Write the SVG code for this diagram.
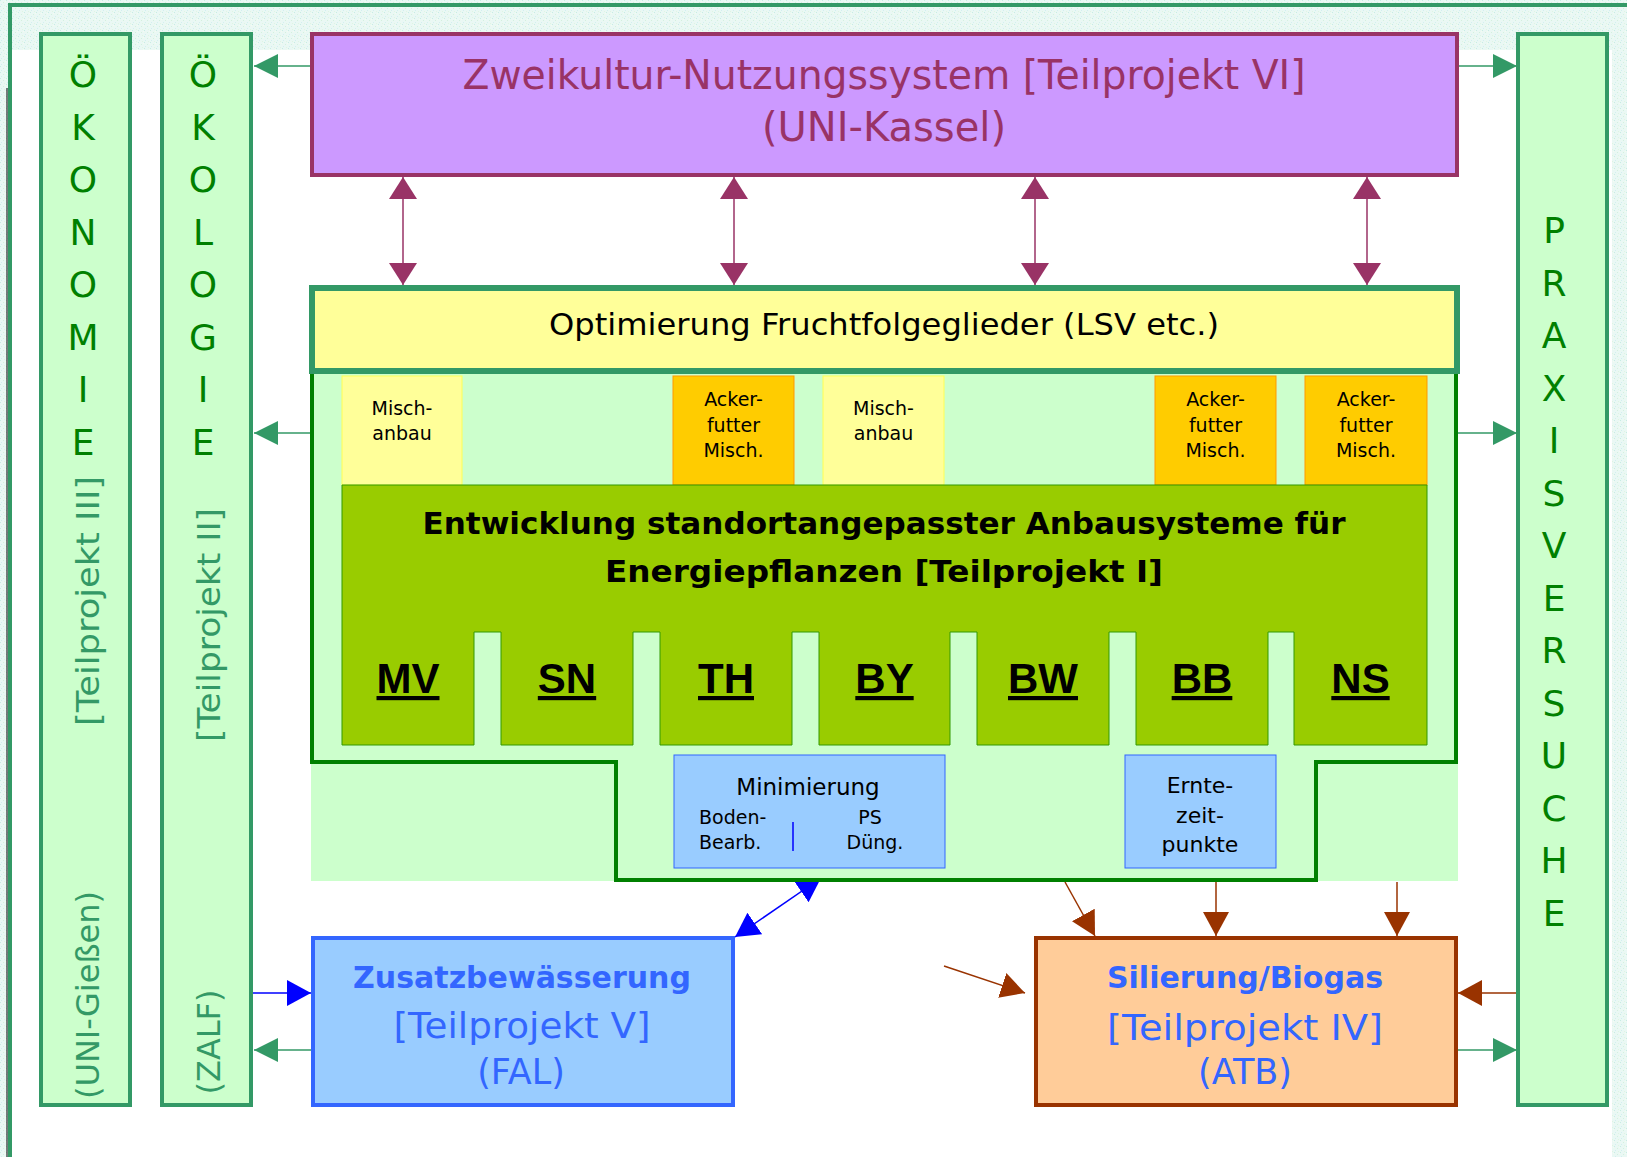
<svg xmlns="http://www.w3.org/2000/svg" width="1627" height="1157" viewBox="0 0 1627 1157">
<defs>
<pattern id="tex" width="6" height="6" patternUnits="userSpaceOnUse">
<rect width="6" height="6" fill="#eaf8f4"/>
<rect x="0" y="0" width="1" height="1" fill="#c8ece4"/>
<rect x="3" y="2" width="1" height="1" fill="#d4f0de"/>
<rect x="1" y="4" width="1" height="1" fill="#d2eff0"/>
<rect x="4" y="5" width="1" height="1" fill="#e0f5e2"/>
<rect x="5" y="1" width="1" height="1" fill="#f5fcf0"/>
</pattern>
<marker id="mg" viewBox="0 0 24 24" refX="24" refY="12" markerWidth="24" markerHeight="24" markerUnits="userSpaceOnUse" orient="auto-start-reverse"><path d="M0,0 L24,12 L0,24 Z" fill="#339966"/></marker>
<marker id="mp" viewBox="0 0 22 28" refX="22" refY="14" markerWidth="22" markerHeight="28" markerUnits="userSpaceOnUse" orient="auto-start-reverse"><path d="M0,0 L22,14 L0,28 Z" fill="#993366"/></marker>
<marker id="mb" viewBox="0 0 24 26" refX="24" refY="13" markerWidth="24" markerHeight="26" markerUnits="userSpaceOnUse" orient="auto-start-reverse"><path d="M0,0 L24,13 L0,26 Z" fill="#0000ff"/></marker>
<marker id="mr" viewBox="0 0 24 26" refX="24" refY="13" markerWidth="24" markerHeight="26" markerUnits="userSpaceOnUse" orient="auto-start-reverse"><path d="M0,0 L24,13 L0,26 Z" fill="#993300"/></marker>
</defs>
<style>
.f{font-family:"DejaVu Sans",sans-serif}
.col{fill:#ccffcc;stroke:#339966;stroke-width:4}
.let{font-family:"DejaVu Sans",sans-serif;font-size:36px;fill:#008000;text-anchor:middle}
.rot{font-family:"DejaVu Sans",sans-serif;font-size:32px;fill:#339966;text-anchor:middle}
.cg{stroke:#339966;stroke-width:1.5;fill:none}
.cp{stroke:#993366;stroke-width:1.5;fill:none}
.cb{stroke:#0000ff;stroke-width:1.5;fill:none}
.cr{stroke:#993300;stroke-width:1.5;fill:none}
.small{font-family:"DejaVu Sans",sans-serif;font-size:19px;fill:#000;text-anchor:middle}
.mid{font-family:"DejaVu Sans",sans-serif;font-size:22px;fill:#000;text-anchor:middle}
.st{font-family:"Liberation Sans",Arial,sans-serif;font-size:42px;font-weight:bold;fill:#000;text-anchor:middle;text-decoration:underline}
.blue{font-family:"DejaVu Sans",sans-serif;fill:#3366ff;text-anchor:middle}
</style>

<!-- background -->
<rect x="0" y="0" width="1627" height="1157" fill="url(#tex)"/>
<rect x="12" y="50" width="1600" height="1107" fill="#ffffff"/>
<line x1="7" y1="88" x2="7" y2="1157" stroke="#000" stroke-width="1"/>
<path d="M10,1157 V5 H1627" fill="none" stroke="#339966" stroke-width="4"/>

<!-- connectors (drawn first, nodes overlay tips) -->
<g id="connectors">
<line class="cg" x1="311" y1="66" x2="254" y2="66" marker-end="url(#mg)"/>
<line class="cg" x1="1458" y1="66" x2="1517" y2="66" marker-end="url(#mg)"/>
<line class="cg" x1="311" y1="433" x2="254" y2="433" marker-end="url(#mg)"/>
<line class="cg" x1="1458" y1="433" x2="1517" y2="433" marker-end="url(#mg)"/>
<line class="cp" x1="403" y1="177" x2="403" y2="285" marker-start="url(#mp)" marker-end="url(#mp)"/>
<line class="cp" x1="734" y1="177" x2="734" y2="285" marker-start="url(#mp)" marker-end="url(#mp)"/>
<line class="cp" x1="1035" y1="177" x2="1035" y2="285" marker-start="url(#mp)" marker-end="url(#mp)"/>
<line class="cp" x1="1367" y1="177" x2="1367" y2="285" marker-start="url(#mp)" marker-end="url(#mp)"/>
<line class="cb" x1="735" y1="937" x2="821" y2="878" marker-start="url(#mb)" marker-end="url(#mb)"/>
<line class="cb" x1="253" y1="993" x2="311" y2="993" marker-end="url(#mb)"/>
<line class="cg" x1="311" y1="1050" x2="254" y2="1050" marker-end="url(#mg)"/>
<line class="cr" x1="1065" y1="882" x2="1095" y2="936" marker-end="url(#mr)"/>
<line class="cr" x1="1216" y1="882" x2="1216" y2="936" marker-end="url(#mr)"/>
<line class="cr" x1="1397" y1="882" x2="1397" y2="936" marker-end="url(#mr)"/>
<line class="cr" x1="944" y1="966" x2="1025" y2="993" marker-end="url(#mr)"/>
<line class="cr" x1="1517" y1="993" x2="1458" y2="993" marker-end="url(#mr)"/>
<line class="cg" x1="1458" y1="1050" x2="1517" y2="1050" marker-end="url(#mg)"/>
</g>

<!-- Oekonomie column -->
<g id="oekonomie">
<rect class="col" x="41" y="34" width="89" height="1071"/>
<text class="let" x="83" y="87">Ö</text>
<text class="let" x="83" y="139.5">K</text>
<text class="let" x="83" y="192">O</text>
<text class="let" x="83" y="244.5">N</text>
<text class="let" x="83" y="297">O</text>
<text class="let" x="83" y="349.5">M</text>
<text class="let" x="83" y="402">I</text>
<text class="let" x="83" y="454.5">E</text>
<text class="rot" transform="translate(99,601) rotate(-90)" textLength="250" lengthAdjust="spacingAndGlyphs">[Teilprojekt III]</text>
<text class="rot" transform="translate(99,995) rotate(-90)">(UNI-Gießen)</text>
</g>

<!-- Oekologie column -->
<g id="oekologie">
<rect class="col" x="162" y="34" width="89" height="1071"/>
<text class="let" x="203" y="87">Ö</text>
<text class="let" x="203" y="139.5">K</text>
<text class="let" x="203" y="192">O</text>
<text class="let" x="203" y="244.5">L</text>
<text class="let" x="203" y="297">O</text>
<text class="let" x="203" y="349.5">G</text>
<text class="let" x="203" y="402">I</text>
<text class="let" x="203" y="454.5">E</text>
<text class="rot" transform="translate(220,625) rotate(-90)" textLength="234" lengthAdjust="spacingAndGlyphs">[Teilprojekt II]</text>
<text class="rot" transform="translate(220,1042) rotate(-90)">(ZALF)</text>
</g>

<!-- Praxisversuche column -->
<g id="praxisversuche">
<rect class="col" x="1518" y="34" width="89" height="1071"/>
<text class="let" x="1554" y="243">P</text>
<text class="let" x="1554" y="295.5">R</text>
<text class="let" x="1554" y="348">A</text>
<text class="let" x="1554" y="400.5">X</text>
<text class="let" x="1554" y="453">I</text>
<text class="let" x="1554" y="505.5">S</text>
<text class="let" x="1554" y="558">V</text>
<text class="let" x="1554" y="610.5">E</text>
<text class="let" x="1554" y="663">R</text>
<text class="let" x="1554" y="715.5">S</text>
<text class="let" x="1554" y="768">U</text>
<text class="let" x="1554" y="820.5">C</text>
<text class="let" x="1554" y="873">H</text>
<text class="let" x="1554" y="925.5">E</text>
</g>

<!-- TP VI -->
<g id="tp6">
<rect x="312" y="34" width="1145" height="141" fill="#cc99ff" stroke="#993366" stroke-width="4"/>
<text class="f" x="884" y="89" font-size="40" fill="#993366" text-anchor="middle" textLength="843" lengthAdjust="spacingAndGlyphs">Zweikultur-Nutzungssystem [Teilprojekt VI]</text>
<text class="f" x="884" y="141" font-size="40" fill="#993366" text-anchor="middle">(UNI-Kassel)</text>
</g>

<!-- container light green -->
<g id="container">
<rect x="311" y="288" width="1147" height="593" fill="#ccffcc"/>
<path d="M312,371 V762 H616 V880 H1316 V762 H1456 V371" fill="none" stroke="#008000" stroke-width="4"/>
</g>

<!-- Optimierung -->
<g id="optimierung">
<rect x="312" y="288" width="1145" height="83" fill="#ffff99" stroke="#339966" stroke-width="6"/>
<text class="f" x="884" y="335" font-size="31" fill="#000" text-anchor="middle" textLength="670" lengthAdjust="spacingAndGlyphs">Optimierung Fruchtfolgeglieder (LSV etc.)</text>
</g>

<!-- row cells -->
<g id="mischanbau1">
<rect x="342" y="376" width="120" height="109" fill="#ffff99" stroke="#ffff55" stroke-width="1"/>
<text class="small" x="402" y="415">Misch-</text>
<text class="small" x="402" y="440">anbau</text>
</g>
<g id="ackerfutter1">
<rect x="673" y="376" width="121" height="109" fill="#ffcc00" stroke="#ff9900" stroke-width="1"/>
<text class="small" x="733.5" y="406">Acker-</text>
<text class="small" x="733.5" y="432">futter</text>
<text class="small" x="733.5" y="457">Misch.</text>
</g>
<g id="mischanbau2">
<rect x="823" y="376" width="121" height="109" fill="#ffff99" stroke="#ffff55" stroke-width="1"/>
<text class="small" x="883.5" y="415">Misch-</text>
<text class="small" x="883.5" y="440">anbau</text>
</g>
<g id="ackerfutter2">
<rect x="1155" y="376" width="121" height="109" fill="#ffcc00" stroke="#ff9900" stroke-width="1"/>
<text class="small" x="1215.5" y="406">Acker-</text>
<text class="small" x="1215.5" y="432">futter</text>
<text class="small" x="1215.5" y="457">Misch.</text>
</g>
<g id="ackerfutter3">
<rect x="1305" y="376" width="122" height="109" fill="#ffcc00" stroke="#ff9900" stroke-width="1"/>
<text class="small" x="1366" y="406">Acker-</text>
<text class="small" x="1366" y="432">futter</text>
<text class="small" x="1366" y="457">Misch.</text>
</g>

<!-- TP I -->
<g id="tp1">
<path d="M342,485 H1427 V745 H1294 V632 H1268 V745 H1136 V632 H1109 V745 H977 V632 H950 V745 H819 V632 H792 V745 H660 V632 H633 V745 H501 V632 H474 V745 H342 Z" fill="#99cc00" stroke="#339900" stroke-width="1"/>
<text class="f" x="884" y="534" font-size="31" font-weight="bold" fill="#000" text-anchor="middle" textLength="923" lengthAdjust="spacingAndGlyphs">Entwicklung standortangepasster Anbausysteme für</text>
<text class="f" x="884" y="582" font-size="31" font-weight="bold" fill="#000" text-anchor="middle" textLength="558" lengthAdjust="spacingAndGlyphs">Energiepflanzen [Teilprojekt I]</text>
</g>
<g id="mv"><text class="st" x="408" y="693">MV</text></g>
<g id="sn"><text class="st" x="567" y="693">SN</text></g>
<g id="th"><text class="st" x="726" y="693">TH</text></g>
<g id="by"><text class="st" x="884.5" y="693">BY</text></g>
<g id="bw"><text class="st" x="1043" y="693">BW</text></g>
<g id="bb"><text class="st" x="1202" y="693">BB</text></g>
<g id="ns"><text class="st" x="1360.5" y="693">NS</text></g>

<!-- Minimierung -->
<g id="minimierung">
<rect x="674" y="755" width="271" height="113" fill="#99ccff" stroke="#3366ff" stroke-width="1"/>
<text class="f" x="808" y="795" font-size="23" fill="#000" text-anchor="middle">Minimierung</text>
<text class="f" x="699" y="824" font-size="19" fill="#000">Boden-</text>
<text class="f" x="699" y="849" font-size="19" fill="#000">Bearb.</text>
<text class="small" x="870" y="824">PS</text>
<text class="small" x="875" y="849">Düng.</text>
<line x1="793" y1="822" x2="793" y2="851" stroke="#0000ff" stroke-width="1.5"/>
</g>

<!-- Erntezeitpunkte -->
<g id="erntezeitpunkte">
<rect x="1125" y="755" width="151" height="113" fill="#99ccff" stroke="#3366ff" stroke-width="1"/>
<text class="mid" x="1200" y="793">Ernte-</text>
<text class="mid" x="1200" y="823">zeit-</text>
<text class="mid" x="1200" y="852">punkte</text>
</g>

<!-- TP V -->
<g id="tp5">
<rect x="313" y="938" width="420" height="167" fill="#99ccff" stroke="#3366ff" stroke-width="4"/>
<text class="blue" x="522" y="988" font-size="30" font-weight="bold">Zusatzbewässerung</text>
<text class="blue" x="522" y="1038" font-size="35" textLength="257" lengthAdjust="spacingAndGlyphs">[Teilprojekt V]</text>
<text class="blue" x="521" y="1084" font-size="35">(FAL)</text>
</g>

<!-- TP IV -->
<g id="tp4">
<rect x="1036" y="938" width="420" height="167" fill="#ffcc99" stroke="#993300" stroke-width="4"/>
<text class="blue" x="1245" y="988" font-size="30" font-weight="bold">Silierung/Biogas</text>
<text class="blue" x="1245" y="1040" font-size="35" textLength="276" lengthAdjust="spacingAndGlyphs">[Teilprojekt IV]</text>
<text class="blue" x="1245" y="1084" font-size="35">(ATB)</text>
</g>
</svg>
